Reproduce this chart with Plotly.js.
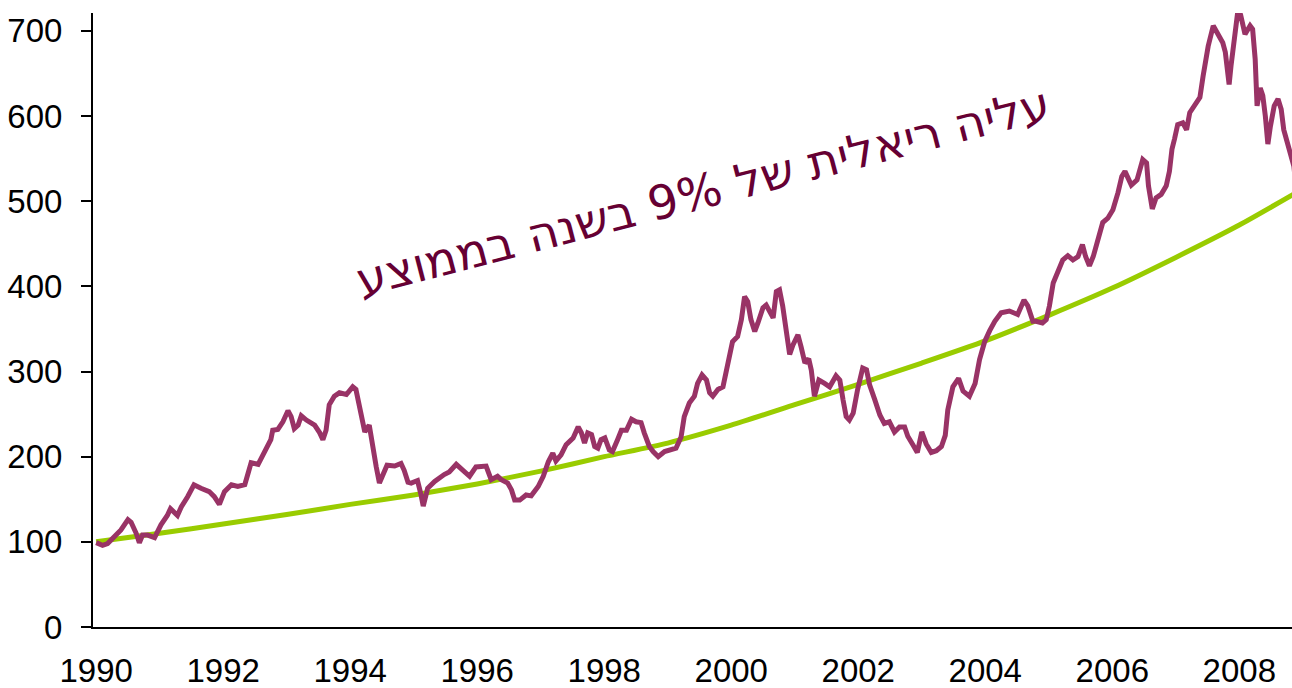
<!DOCTYPE html>
<html>
<head>
<meta charset="utf-8">
<script src="https://cdn.plot.ly/plotly-3.0.1.min.js"></script>
<style>
html,body{margin:0;padding:0;background:#fff;}
#chart{width:1292px;height:688px;}
</style>
</head>
<body>
<div id="chart"></div>
<script>
// Purple series: index (1990 = 100)
const priceYears = [
1990.00,1990.10,1990.18,1990.29,1990.39,1990.50,1990.55,1990.63,1990.68,1990.73,1990.81,1990.92,
1991.02,1991.12,1991.17,1991.28,1991.34,1991.44,1991.54,1991.65,1991.78,1991.86,1991.94,
1992.02,1992.13,1992.23,1992.34,1992.39,1992.44,1992.55,1992.65,1992.75,1992.78,1992.86,1992.94,
1993.02,1993.07,1993.12,1993.18,1993.23,1993.31,1993.44,1993.52,1993.57,1993.62,1993.67,1993.75,1993.83,1993.94,
1994.04,1994.09,1994.17,1994.23,1994.30,1994.35,1994.41,1994.46,1994.51,1994.58,1994.70,1994.80,1994.85,1994.91,1994.96,
1995.06,1995.11,1995.15,1995.22,1995.33,1995.48,1995.56,1995.67,1995.77,1995.88,1995.98,
1996.09,1996.14,1996.22,1996.32,1996.38,1996.48,1996.54,1996.59,1996.67,1996.77,1996.85,1996.96,
1997.04,1997.12,1997.19,1997.24,1997.32,1997.40,1997.51,1997.59,1997.64,1997.69,1997.74,1997.80,1997.85,1997.90,1997.95,
1998.01,1998.08,1998.13,1998.21,1998.27,1998.35,1998.43,1998.50,1998.58,1998.63,1998.71,1998.77,1998.85,1998.95,
1999.03,1999.13,1999.21,1999.26,1999.34,1999.42,1999.47,1999.54,1999.61,1999.66,1999.71,1999.79,1999.87,1999.94,
2000.02,2000.10,2000.16,2000.21,2000.26,2000.31,2000.37,2000.42,2000.50,2000.55,2000.60,2000.66,2000.71,2000.76,2000.81,2000.87,2000.92,2000.97,
2001.05,2001.10,2001.16,2001.22,2001.26,2001.31,2001.38,2001.47,2001.55,2001.65,2001.71,2001.76,2001.81,2001.86,2001.92,2001.99,
2002.07,2002.13,2002.18,2002.26,2002.34,2002.41,2002.49,2002.57,2002.65,2002.73,2002.78,2002.86,2002.93,
2003.00,2003.07,2003.15,2003.23,2003.31,2003.37,2003.41,2003.49,2003.58,2003.65,2003.75,2003.84,2003.91,2003.99,
2004.07,2004.15,2004.25,2004.38,2004.51,2004.61,2004.67,2004.75,2004.80,2004.90,2004.96,
2005.01,2005.07,2005.15,2005.22,2005.30,2005.38,2005.46,2005.53,2005.58,2005.64,2005.70,2005.77,2005.85,2005.93,
2006.01,2006.09,2006.15,2006.20,2006.30,2006.39,2006.48,2006.54,2006.57,2006.63,2006.69,2006.77,2006.85,2006.90,2006.94,2006.98,
2007.03,2007.11,2007.17,2007.22,2007.30,2007.38,2007.43,2007.51,2007.59,2007.66,2007.74,2007.78,2007.84,2007.87,2007.92,2007.98,
2008.02,2008.09,2008.17,2008.21,2008.25,2008.28,2008.33,2008.37,2008.41,2008.45,2008.49,2008.55,2008.61,2008.66,2008.70,2008.78,2008.86,2008.88
];
const priceValues = [
99,96,98,106,114,126,123,110,99,108,108,105,
120,131,139,131,141,153,167,163,159,153,144,
159,167,165,167,180,193,191,206,220,231,232,241,
254,247,233,237,248,243,237,228,220,231,261,271,275,273,
282,279,247,229,237,212,188,169,179,190,189,192,184,170,169,
172,157,142,163,171,179,182,191,184,177,188,
188,189,173,177,173,169,161,149,149,155,154,165,
177,194,204,195,202,214,222,235,228,216,228,226,212,210,220,
222,208,206,220,231,231,244,241,240,228,212,206,200,206,
208,210,223,247,263,271,286,296,290,275,271,279,282,306,
335,341,361,388,382,361,347,357,375,378,371,363,394,396,377,341,320,331,
343,329,310,315,302,271,290,286,282,295,290,267,247,243,251,279,
304,302,284,267,249,239,241,229,235,235,224,214,205,
229,215,205,207,212,225,255,282,292,277,271,286,314,335,
348,359,369,371,367,384,377,359,359,357,361,
377,404,420,431,436,431,435,449,435,424,435,453,475,480,
490,510,529,535,519,525,549,545,518,491,504,508,518,535,561,573,
590,592,584,604,612,622,647,682,706,696,686,675,637,659,690,725,
719,696,706,702,667,612,633,624,600,567,588,612,620,608,584,561,541,526
];

const trendYears  = [1990,1991,1992,1993,1994,1995,1996,1997,1998,1999,2000,2001,2002,2003,2004,2005,2006,2007,2008,2008.85];
const trendValues = [100,110,121,132,144,155,168,183,200,216,237,261,285,310,336,366,398,434,472,508];

const xTickVals = [1990,1992,1994,1996,1998,2000,2002,2004,2006,2008];
const xTickText = ["1990","1992","1994","1996","1998","2000","2002","2004","2006","2008"];
const yTickVals = [0,100,200,300,400,500,600,700];

const annotationText = "עליה ריאלית של 9% בשנה בממוצע";

const traces = [
  {
    x: trendYears, y: trendValues, type: 'scatter', mode: 'lines',
    line: {color: '#99CC00', width: 5, shape: 'spline', smoothing: 0.6},
    hoverinfo: 'skip', showlegend: false
  },
  {
    x: priceYears, y: priceValues, type: 'scatter', mode: 'lines',
    line: {color: '#993366', width: 5, shape: 'linear'},
    hoverinfo: 'skip', showlegend: false
  }
];

const layout = {
  width: 1292, height: 688,
  margin: {l: 93, r: 0, t: 13, b: 61, pad: 0},
  paper_bgcolor: '#ffffff', plot_bgcolor: '#ffffff',
  showlegend: false,
  font: {family: '"Liberation Sans", Arial, sans-serif', size: 33, color: '#000000'},
  xaxis: {
    range: [1989.95, 2008.83],
    tickvals: xTickVals, ticktext: xTickText,
    showline: true, linecolor: '#000000', linewidth: 2,
    ticks: '', showgrid: false, zeroline: false,
    ticklabelstandoff: 13,
    tickfont: {family: '"Liberation Sans", Arial, sans-serif', size: 33, color: '#000000'}
  },
  yaxis: {
    range: [0, 721],
    tickvals: yTickVals,
    showline: true, linecolor: '#000000', linewidth: 2,
    ticks: 'outside', ticklen: 10, tickwidth: 2, tickcolor: '#000000',
    showgrid: false, zeroline: false,
    ticklabelstandoff: 12,
    tickfont: {family: '"Liberation Sans", Arial, sans-serif', size: 33, color: '#000000'}
  },
  annotations: [{
    x: 1999.56, y: 511, xref: 'x', yref: 'y',
    text: annotationText, showarrow: false,
    textangle: -14.5, xanchor: 'center', yanchor: 'middle',
    font: {family: '"DejaVu Sans", sans-serif', size: 47, color: '#660033'}
  }]
};

Plotly.newPlot('chart', traces, layout, {displayModeBar: false, staticPlot: true});
</script>
</body>
</html>
